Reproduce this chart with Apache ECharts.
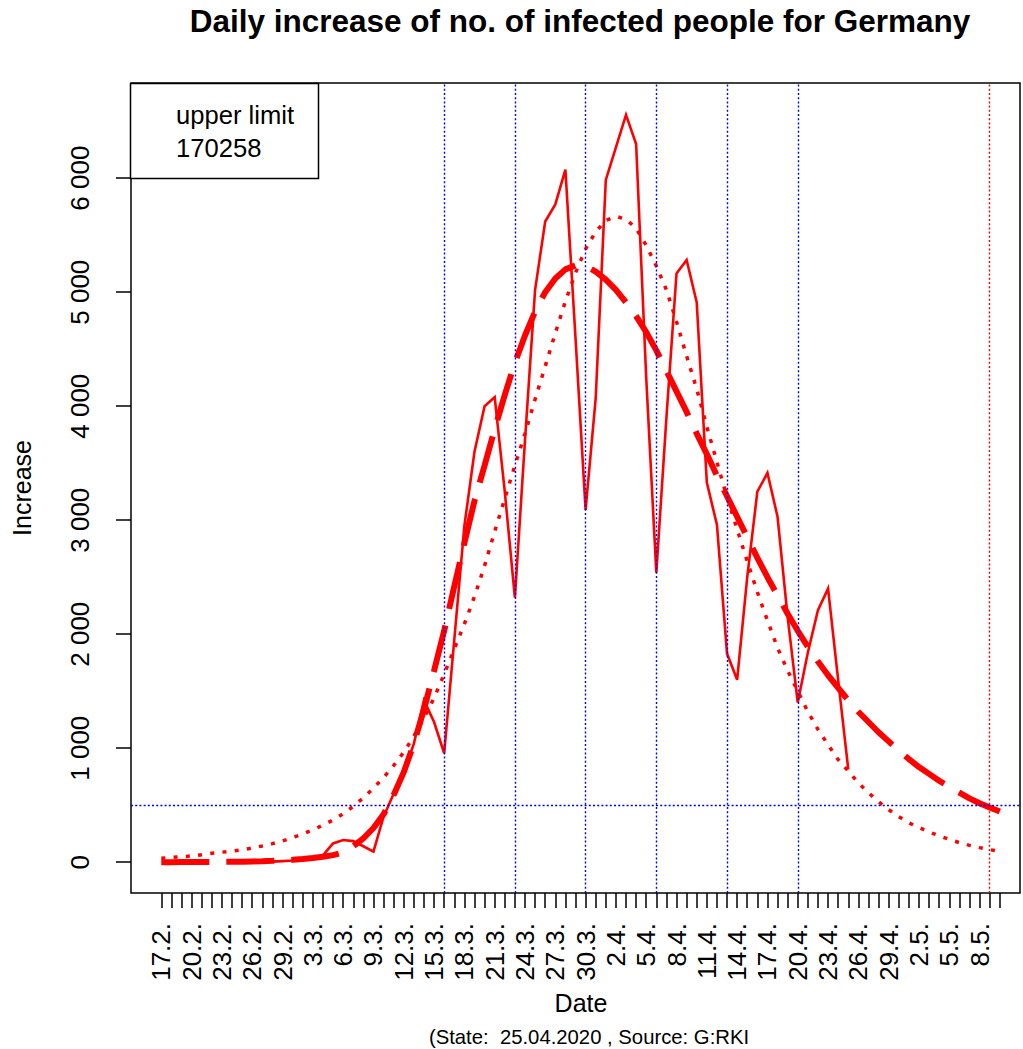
<!DOCTYPE html>
<html>
<head>
<meta charset="utf-8">
<script src="https://cdn.jsdelivr.net/npm/echarts@6/dist/echarts.min.js"></script>
<style>
html,body{margin:0;padding:0;background:#fff;}
#chart{width:1023px;height:1049px;}
</style>
</head>
<body>
<div id="chart"></div>
<script>
// ---- data (one entry per day, starting 17.2.) ----
const tickDates = [
  '17.2.','18.2.','19.2.','20.2.','21.2.','22.2.','23.2.','24.2.','25.2.','26.2.','27.2.','28.2.','29.2.',
  '1.3.','2.3.','3.3.','4.3.','5.3.','6.3.','7.3.','8.3.','9.3.','10.3.','11.3.','12.3.','13.3.','14.3.','15.3.',
  '16.3.','17.3.','18.3.','19.3.','20.3.','21.3.','22.3.','23.3.','24.3.','25.3.','26.3.','27.3.','28.3.','29.3.',
  '30.3.','31.3.',
  '1.4.','2.4.','3.4.','4.4.','5.4.','6.4.','7.4.','8.4.','9.4.','10.4.','11.4.','12.4.','13.4.','14.4.','15.4.',
  '16.4.','17.4.','18.4.','19.4.','20.4.','21.4.','22.4.','23.4.','24.4.','25.4.','26.4.','27.4.','28.4.','29.4.',
  '30.4.',
  '1.5.','2.5.','3.5.','4.5.','5.5.','6.5.','7.5.','8.5.','9.5.','10.5.'
];
const labeledDates = [
  '17.2.','20.2.','23.2.','26.2.','29.2.','3.3.','6.3.','9.3.','12.3.','15.3.','18.3.','21.3.','24.3.','27.3.',
  '30.3.','2.4.','5.4.','8.4.','11.4.','14.4.','17.4.','20.4.','23.4.','26.4.','29.4.','2.5.','5.5.','8.5.'
];
// observed daily increase (null = no value drawn)
const dailyIncrease = [
  null,null,null,null,null,null,null,0,0,0,
  2,5,10,15,25,40,60,165,195,185,
  140,93,400,600,790,1040,1420,1230,956,1950,
  2950,3600,4000,4080,3250,2320,3700,5020,5620,5770,
  6075,4600,3090,4070,5985,6270,6555,6300,4250,2540,
  3900,5165,5282,4910,3330,2960,1830,1600,2500,3250,
  3414,3030,2150,1400,1840,2210,2400,1600,815
];
// fitted curve, drawn long-dashed
const fitLongDash = [
  0,0,1,1,2,2,3,4,5,7,
  9,12,16,21,28,37,48,62,85,140,
  210,300,420,590,790,1040,1340,1680,2030,2420,
  2800,3170,3480,3800,4100,4380,4620,4830,5000,5120,
  5200,5235,5230,5180,5110,5020,4910,4790,4650,4490,
  4310,4130,3950,3760,3580,3390,3210,3030,2850,2670,
  2500,2340,2180,2030,1890,1760,1640,1530,1420,1320,
  1230,1140,1060,980,905,835,775,715,660,610,
  560,518,480,445
];
// fitted curve, drawn dotted
const fitDotted = [
  35,42,48,55,66,78,88,97,108,124,
  143,163,187,216,248,284,325,370,425,490,
  565,650,742,848,965,1105,1265,1440,1650,1870,
  2090,2330,2600,2900,3190,3480,3760,4060,4350,4640,
  4920,5170,5380,5530,5630,5665,5640,5560,5410,5230,
  5020,4740,4440,4150,3820,3510,3200,2920,2640,2370,
  2120,1880,1680,1500,1320,1165,1030,900,800,695,
  610,530,460,400,345,305,265,232,200,172,
  148,128,110,96
];
const weekLines = ['16.3.','23.3.','30.3.','6.4.','13.4.','20.4.'];
const limitDate = '9.5.';
const levelValue = 500;
const yTickValues = [0,1000,2000,3000,4000,5000,6000];
const yTickLabels = ['0','1 000','2 000','3 000','4 000','5 000','6 000'];
const legendLines = ['upper limit','170258'];

const titleText = 'Daily increase of no. of infected people for Germany';
const xName = 'Date';
const yName = 'Increase';
const subText = '(State:  25.04.2020 , Source: G:RKI';

// ---- build ----
const FONT = '"Liberation Sans", Arial, sans-serif';
const idx = d => tickDates.indexOf(d);
const toPairs = arr => arr.map((v, i) => [i, v]);

const chart = echarts.init(document.getElementById('chart'), null, {renderer: 'svg'});

const option = {
  animation: false,
  backgroundColor: '#ffffff',
  grid: {
    left: 131, top: 83, width: 889, height: 810,
    show: true, borderColor: '#000', borderWidth: 1.5,
    backgroundColor: 'transparent',
    containLabel: false, outerBoundsMode: 'none'
  },
  xAxis: {
    type: 'value', min: -3, max: 85,
    axisLine: {show: false, onZero: false},
    splitLine: {show: false},
    axisTick: {
      show: true, length: 15, inside: false,
      customValues: tickDates.map((d, i) => i),
      lineStyle: {color: '#000', width: 1.5}
    },
    axisLabel: {
      show: true, rotate: 90, margin: 30,
      customValues: labeledDates.map(idx),
      formatter: v => tickDates[v] || '',
      color: '#000', fontSize: 26, fontFamily: FONT
    }
  },
  yAxis: {
    type: 'value', min: -270, max: 6835,
    axisLine: {show: false, onZero: false},
    splitLine: {show: false},
    axisTick: {
      show: true, length: 15, inside: false,
      customValues: yTickValues,
      lineStyle: {color: '#000', width: 1.5}
    },
    axisLabel: {
      show: true, rotate: 90, margin: 38,
      customValues: yTickValues,
      formatter: v => yTickLabels[yTickValues.indexOf(v)],
      color: '#000', fontSize: 26, fontFamily: FONT
    }
  },
  series: [
    {
      name: 'daily', type: 'line', data: toPairs(dailyIncrease),
      showSymbol: false, symbol: 'none', connectNulls: false, z: 3,
      lineStyle: {color: '#ff0000', width: 2.6, join: 'miter'}
    },
    {
      name: 'fit1', type: 'line', data: toPairs(fitLongDash),
      showSymbol: false, symbol: 'none', z: 4,
      lineStyle: {color: '#ff0000', width: 6, type: [48, 17], cap: 'butt'}
    },
    {
      name: 'fit2', type: 'line', data: toPairs(fitDotted),
      showSymbol: false, symbol: 'none', z: 4,
      lineStyle: {color: '#ff0000', width: 3.5, type: [4, 8.3], cap: 'butt'}
    },
    {
      name: 'refs', type: 'line', data: [], z: 6,
      markLine: {
        silent: true, symbol: ['none', 'none'], animation: false,
        label: {show: false},
        data: [
          ...weekLines.map(d => ({xAxis: idx(d), lineStyle: {color: '#0000ff', width: 1.4, type: [2, 2.2]}})),
          {xAxis: idx(limitDate), lineStyle: {color: '#ff0000', width: 1.4, type: [2, 2.2]}},
          {yAxis: levelValue, lineStyle: {color: '#0000ff', width: 1.4, type: [2, 2.2]}}
        ]
      }
    }
  ],
  graphic: [
    {type: 'text', x: 580, y: 21, style: {text: titleText, font: 'bold 31.5px ' + FONT, fill: '#000', textAlign: 'center', textVerticalAlign: 'middle'}},
    {type: 'text', x: 581, y: 1003, style: {text: xName, font: '25px ' + FONT, fill: '#000', textAlign: 'center', textVerticalAlign: 'middle'}},
    {type: 'text', x: 589, y: 1037, style: {text: subText, font: '20.3px ' + FONT, fill: '#000', textAlign: 'center', textVerticalAlign: 'middle'}},
    {type: 'text', x: 22, y: 488, rotation: Math.PI / 2, style: {text: yName, font: '25px ' + FONT, fill: '#000', textAlign: 'center', textVerticalAlign: 'middle'}},
    {type: 'rect', shape: {x: 130.5, y: 83.5, width: 188, height: 95}, style: {fill: '#fff', stroke: '#000', lineWidth: 1.5}, z: 20},
    {type: 'text', x: 176, y: 115, z: 21, style: {text: legendLines[0], font: '25.6px ' + FONT, fill: '#000', textAlign: 'left', textVerticalAlign: 'middle'}},
    {type: 'text', x: 176, y: 148, z: 21, style: {text: legendLines[1], font: '25.6px ' + FONT, fill: '#000', textAlign: 'left', textVerticalAlign: 'middle'}}
  ]
};
chart.setOption(option);
</script>
</body>
</html>
